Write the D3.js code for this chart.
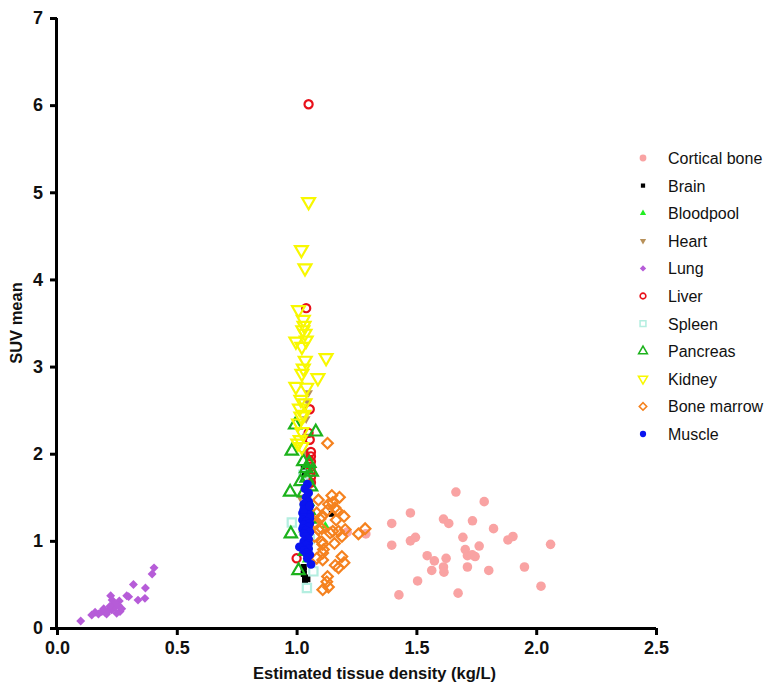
<!DOCTYPE html>
<html>
<head>
<meta charset="utf-8">
<script src="https://cdn.jsdelivr.net/npm/d3@7"></script>
<style>
  body { margin: 0; background: #fff; }
  svg { display: block; font-family: "Liberation Sans", Arial, sans-serif; }
</style>
</head>
<body>
<svg id="chart" width="780" height="686"></svg>
<script>
// Tissue density (kg/L) vs SUV mean, one array of [density, SUV] pairs per tissue
const corticalBone = [
  [1.665,1.56],[1.783,1.45],[1.475,1.32],[1.397,1.20],[1.613,1.25],[1.635,1.20],[1.734,1.23],
  [1.822,1.14],[1.397,0.95],[1.475,1.00],[1.496,1.04],[1.694,1.04],[1.882,1.01],[1.903,1.05],
  [2.060,0.96],[1.762,0.94],[1.704,0.90],[1.713,0.83],[1.733,0.84],[1.745,0.82],[1.545,0.83],
  [1.575,0.77],[1.624,0.80],[1.613,0.70],[1.615,0.64],[1.564,0.66],[1.713,0.70],[1.802,0.66],
  [1.951,0.70],[1.505,0.54],[2.020,0.48],[1.427,0.38],[1.674,0.40],[1.289,1.08],[1.211,1.10]
];
const brain = [
  [1.030,1.83],[1.035,1.78],[1.147,1.31],[1.030,0.70],[1.030,0.66],[1.030,0.62],
  [1.035,0.58],[1.045,0.56],[1.035,0.54],[1.040,1.20],[1.035,1.00]
];
const bloodpool = [
  [1.120,1.17],[1.050,1.85],[1.045,1.75],[1.050,1.45],[1.050,1.25],[1.045,1.05],
  [1.045,0.95],[1.040,0.78],[1.055,1.65],[1.040,2.00]
];
const heart = [
  [1.050,2.70],[1.045,2.60],[1.040,2.20],[1.035,2.00],[1.015,1.50],[1.030,1.40],
  [1.050,1.60],[1.045,1.85],[1.040,1.30],[1.035,1.10],[1.050,0.85],[1.040,2.40]
];
const lung = [
  [0.099,0.08],[0.405,0.69],[0.397,0.62],[0.319,0.50],[0.369,0.46],[0.291,0.37],[0.299,0.36],
  [0.338,0.32],[0.367,0.34],[0.224,0.37],[0.230,0.32],[0.260,0.31],[0.159,0.18],[0.173,0.16],
  [0.187,0.19],[0.200,0.18],[0.214,0.20],[0.228,0.21],[0.242,0.24],[0.256,0.26],[0.263,0.19],
  [0.207,0.16],[0.249,0.17],[0.270,0.22],[0.238,0.28],[0.221,0.25],[0.145,0.15],[0.195,0.22]
];
const liver = [
  [1.050,6.01],[1.040,3.67],[1.055,2.51],[1.050,2.24],[1.055,2.16],[1.060,2.02],[1.060,1.97],
  [1.060,1.91],[1.060,1.85],[1.060,1.79],[1.060,1.73],[1.060,1.67],[1.000,0.80],[1.055,1.30],
  [1.050,1.10]
];
const spleen = [
  [0.980,1.21],[1.043,0.46],[1.070,0.65],[1.028,1.76],[1.040,1.35],[1.050,1.12],[1.045,0.92],[1.055,1.02]
];
const pancreas = [
  [0.994,2.33],[1.080,2.25],[0.980,2.03],[1.028,1.91],[1.053,1.89],[1.040,1.83],[1.063,1.79],
  [1.042,1.72],[1.017,1.68],[1.060,1.62],[0.973,1.56],[1.045,1.45],[1.050,1.35],[0.976,1.08],
  [1.040,1.15],[1.008,0.66],[1.035,0.88],[1.055,1.25],[1.030,1.55]
];
const kidney = [
  [1.050,4.89],[1.020,4.34],[1.035,4.13],[1.008,3.65],[1.028,3.54],[1.031,3.47],[1.026,3.42],
  [1.035,3.38],[0.997,3.29],[1.040,3.30],[1.022,3.23],[1.123,3.10],[1.036,3.07],[1.028,2.98],
  [1.022,2.92],[1.089,2.87],[0.997,2.77],[1.042,2.76],[1.018,2.62],[1.035,2.58],[1.012,2.52],
  [1.018,2.43],[1.008,2.35],[1.022,2.25],[1.015,2.16],[1.005,2.12],[1.022,2.08],[1.030,2.45]
];
const boneMarrow = [
  [1.129,2.12],[1.091,1.47],[1.147,1.52],[1.179,1.50],[1.151,1.44],[1.133,1.42],[1.160,1.38],
  [1.084,1.32],[1.129,1.35],[1.168,1.35],[1.198,1.28],[1.105,1.28],[1.098,1.25],[1.165,1.24],
  [1.091,1.13],[1.105,1.14],[1.140,1.09],[1.151,1.11],[1.175,1.11],[1.203,1.13],[1.189,1.05],
  [1.258,1.08],[1.286,1.14],[1.105,0.99],[1.158,0.97],[1.109,0.96],[1.112,0.90],[1.109,0.86],
  [1.084,0.80],[1.109,0.78],[1.189,0.82],[1.198,0.75],[1.161,0.72],[1.175,0.69],[1.129,0.59],
  [1.126,0.53],[1.133,0.47],[1.109,0.44],[1.080,1.20],[1.075,1.05]
];
const muscle = [
  [1.045,1.65],[1.035,1.60],[1.050,1.55],[1.040,1.50],[1.050,1.45],[1.030,1.42],[1.050,1.38],
  [1.040,1.35],[1.025,1.32],[1.055,1.30],[1.030,1.28],[1.055,1.26],[1.025,1.24],[1.040,1.22],
  [1.055,1.20],[1.030,1.18],[1.050,1.16],[1.025,1.14],[1.040,1.12],[1.055,1.10],[1.030,1.08],
  [1.040,1.05],[1.050,1.02],[1.030,0.99],[1.050,0.97],[1.040,0.95],[1.012,0.93],[1.050,0.91],
  [1.030,0.89],[1.040,0.86],[1.055,0.84],[1.045,0.80],[1.060,0.73],[1.030,1.36],[1.055,1.40]
];

const xTicks = [0, 0.5, 1.0, 1.5, 2.0, 2.5];
const yTicks = [0, 1, 2, 3, 4, 5, 6, 7];

const series = [
  { name: "Cortical bone", data: corticalBone, shape: "circle",   size: 72, fill: "#f9a3a3", stroke: "none" },
  { name: "Brain",         data: brain,        shape: "square",   size: 36, fill: "#000000", stroke: "none" },
  { name: "Bloodpool",     data: bloodpool,    shape: "triUp",    size: 34, fill: "#22ee22", stroke: "none" },
  { name: "Heart",         data: heart,        shape: "triDown",  size: 34, fill: "#b8915a", stroke: "none" },
  { name: "Lung",          data: lung,         shape: "diamond",  size: 40, fill: "#b65cd8", stroke: "none" },
  { name: "Liver",         data: liver,        shape: "circle",   size: 52, fill: "none",    stroke: "#e8101a" },
  { name: "Spleen",        data: spleen,       shape: "square",   size: 68, fill: "none",    stroke: "#b4eee0" },
  { name: "Pancreas",      data: pancreas,     shape: "triUp",    size: 66, fill: "none",    stroke: "#1cb21c" },
  { name: "Kidney",        data: kidney,       shape: "triDown",  size: 72, fill: "none",    stroke: "#f8f800" },
  { name: "Bone marrow",   data: boneMarrow,   shape: "diamond",  size: 56, fill: "none",    stroke: "#f5821f" },
  { name: "Muscle",        data: muscle,       shape: "circle",   size: 62, fill: "#0a14f0", stroke: "none" }
];

const svg = d3.select("#chart");
const x = d3.scaleLinear().domain([0, 2.5]).range([57, 656]);
const y = d3.scaleLinear().domain([0, 7]).range([628, 18]);

function symbolPath(shape, size) {
  const sym = d3.symbol().size(size);
  if (shape === "circle") return sym.type(d3.symbolCircle)();
  if (shape === "triUp" || shape === "triDown") return sym.type(d3.symbolTriangle)();
  return sym.type(d3.symbolSquare)();
}
function symbolRotate(shape) {
  if (shape === "triDown") return 180;
  if (shape === "diamond") return 45;
  return 0;
}

function drawMarks(sel, s, scale) {
  const k = scale || 1;
  sel.attr("d", symbolPath(s.shape, s.size * k))
    .attr("fill", s.fill)
    .attr("stroke", s.stroke)
    .attr("stroke-width", s.stroke === "none" ? 0 : 2.2 * Math.sqrt(k));
}

// plotted points
series.forEach(s => {
  svg.append("g").selectAll("path")
    .data(s.data)
    .join("path")
    .call(drawMarks, s)
    .attr("transform", d => `translate(${x(d[0])},${y(d[1])}) rotate(${symbolRotate(s.shape)})`);
});

// axes
const xAxis = svg.append("g")
  .attr("transform", `translate(0,${y(0)})`)
  .call(d3.axisBottom(x).tickValues(xTicks).tickFormat(d3.format(".1f")).tickSize(7).tickPadding(6));
const yAxis = svg.append("g")
  .attr("transform", `translate(${x(0)},0)`)
  .call(d3.axisLeft(y).tickValues(yTicks).tickFormat(d3.format("d")).tickSize(7).tickPadding(7));

[xAxis, yAxis].forEach(a => {
  a.select(".domain").attr("stroke", "#000").attr("stroke-width", 3);
  a.selectAll(".tick line").attr("stroke", "#000").attr("stroke-width", 3);
  a.selectAll(".tick text")
    .attr("fill", "#111")
    .style("font-size", "18px")
    .style("font-weight", "bold")
    .style("font-family", "'Liberation Sans', Arial, sans-serif");
});
// axis lines end flush, without d3's outer tick caps
xAxis.select(".domain").attr("d", `M${x(0)},0.5H${x(2.5)}`);
yAxis.select(".domain").attr("d", `M-0.5,${y(7)}V${y(0)}`);

// axis titles
svg.append("text")
  .attr("x", (x(0) + x(2.5)) / 2 + 18)
  .attr("y", 679)
  .attr("text-anchor", "middle")
  .style("font-size", "16.5px")
  .style("font-weight", "bold")
  .attr("fill", "#111")
  .text("Estimated tissue density (kg/L)");

svg.append("text")
  .attr("transform", `translate(22,${y(3.5)}) rotate(-90)`)
  .attr("text-anchor", "middle")
  .style("font-size", "16.5px")
  .style("font-weight", "bold")
  .attr("fill", "#111")
  .text("SUV mean");

// legend
const legend = svg.append("g").attr("transform", "translate(643,158)");
series.forEach((s, i) => {
  const row = legend.append("g").attr("transform", `translate(0,${i * 27.6})`);
  row.append("path")
    .call(drawMarks, s, 0.5)
    .attr("transform", `rotate(${symbolRotate(s.shape)})`);
  row.append("text")
    .attr("x", 25)
    .attr("y", 6)
    .style("font-size", "16px")
    .attr("fill", "#111")
    .text(s.name);
});
</script>
</body>
</html>
